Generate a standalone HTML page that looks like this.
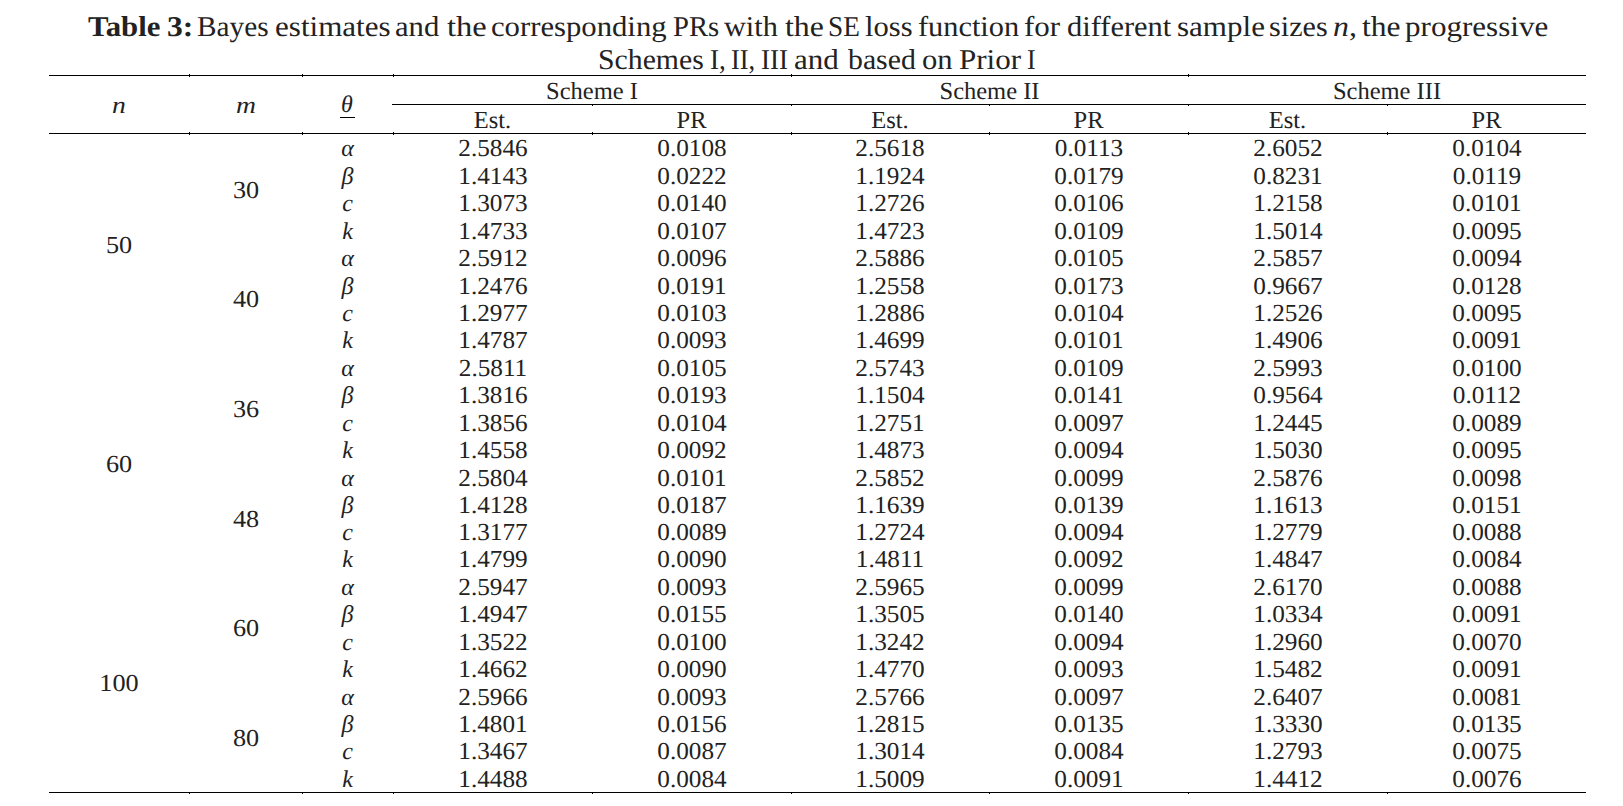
<!DOCTYPE html>
<html><head><meta charset="utf-8"><style>
html,body{margin:0;padding:0;background:#fff;width:1623px;height:806px;overflow:hidden;position:relative}
.t{position:absolute;font-family:"Liberation Serif", serif;line-height:0;text-rendering:geometricPrecision;white-space:nowrap;text-align:center;color:#222;transform-origin:50% 0}
.l{position:absolute;background:#000}
.w{position:absolute;font-family:"Liberation Serif", serif;line-height:0;text-rendering:geometricPrecision;white-space:nowrap;color:#222;transform-origin:0 0}
</style></head><body>
<div class="w" style="left:87.80px;top:27px;font-size:28.7px;transform:scaleX(1.0731)"><b>Table</b></div>
<div class="w" style="left:166.90px;top:27px;font-size:28.7px;transform:scaleX(1.1000)"><b>3:</b></div>
<div class="w" style="left:197.48px;top:27px;font-size:28.7px;transform:scaleX(1.0206)">Bayes</div>
<div class="w" style="left:274.72px;top:27px;font-size:28.7px;transform:scaleX(1.0829)">estimates</div>
<div class="w" style="left:395.43px;top:27px;font-size:28.7px;transform:scaleX(1.0700)">and</div>
<div class="w" style="left:447.00px;top:27px;font-size:28.7px;transform:scaleX(1.1324)">the</div>
<div class="w" style="left:491.43px;top:27px;font-size:28.7px;transform:scaleX(1.0699)">corresponding</div>
<div class="w" style="left:672.90px;top:27px;font-size:28.7px;transform:scaleX(0.9977)">PRs</div>
<div class="w" style="left:724.10px;top:27px;font-size:28.7px;transform:scaleX(1.0549)">with</div>
<div class="w" style="left:785.00px;top:27px;font-size:28.7px;transform:scaleX(1.1088)">the</div>
<div class="w" style="left:828.30px;top:27px;font-size:28.7px;transform:scaleX(0.9500)">SE</div>
<div class="w" style="left:865.13px;top:27px;font-size:28.7px;transform:scaleX(1.0651)">loss</div>
<div class="w" style="left:917.64px;top:27px;font-size:28.7px;transform:scaleX(1.0574)">function</div>
<div class="w" style="left:1024.02px;top:27px;font-size:28.7px;transform:scaleX(1.0788)">for</div>
<div class="w" style="left:1066.64px;top:27px;font-size:28.7px;transform:scaleX(1.0619)">different</div>
<div class="w" style="left:1176.62px;top:27px;font-size:28.7px;transform:scaleX(1.0823)">sample</div>
<div class="w" style="left:1269.15px;top:27px;font-size:28.7px;transform:scaleX(1.0519)">sizes</div>
<div class="w" style="left:1332.89px;top:27px;font-size:28.7px;transform:scaleX(1.1105)"><i>n</i>,</div>
<div class="w" style="left:1362.10px;top:27px;font-size:28.7px;transform:scaleX(1.1000)">the</div>
<div class="w" style="left:1405.42px;top:27px;font-size:28.7px;transform:scaleX(1.0831)">progressive</div>
<div class="w" style="left:598.33px;top:60px;font-size:28.7px;transform:scaleX(1.0374)">Schemes</div>
<div class="w" style="left:709.96px;top:60px;font-size:28.7px;transform:scaleX(0.9429)">I,</div>
<div class="w" style="left:730.98px;top:60px;font-size:28.7px;transform:scaleX(0.9167)">II,</div>
<div class="w" style="left:760.76px;top:60px;font-size:28.7px;transform:scaleX(0.9407)">III</div>
<div class="w" style="left:793.92px;top:60px;font-size:28.7px;transform:scaleX(1.0800)">and</div>
<div class="w" style="left:847.60px;top:60px;font-size:28.7px;transform:scaleX(1.0385)">based</div>
<div class="w" style="left:922.03px;top:60px;font-size:28.7px;transform:scaleX(1.0667)">on</div>
<div class="w" style="left:958.82px;top:60px;font-size:28.7px;transform:scaleX(1.0821)">Prior</div>
<div class="w" style="left:1026.90px;top:60px;font-size:28.7px;transform:scaleX(0.9000)">I</div>
<div class="l" style="left:49px;top:75px;width:1537px;height:1px"></div>
<div class="l" style="left:392px;top:104px;width:1194px;height:1px"></div>
<div class="l" style="left:49px;top:133px;width:1537px;height:1px"></div>
<div class="l" style="left:49px;top:792px;width:1537px;height:1px"></div>
<div class="l" style="left:189px;top:74px;width:1px;height:3px"></div>
<div class="l" style="left:302px;top:74px;width:1px;height:3px"></div>
<div class="l" style="left:393px;top:74px;width:1px;height:3px"></div>
<div class="l" style="left:791px;top:74px;width:1px;height:3px"></div>
<div class="l" style="left:1188px;top:74px;width:1px;height:3px"></div>
<div class="l" style="left:592px;top:105px;width:1px;height:1px"></div>
<div class="l" style="left:791px;top:105px;width:1px;height:1px"></div>
<div class="l" style="left:989px;top:105px;width:1px;height:1px"></div>
<div class="l" style="left:1188px;top:105px;width:1px;height:1px"></div>
<div class="l" style="left:1387px;top:105px;width:1px;height:1px"></div>
<div class="l" style="left:189px;top:132px;width:1px;height:3px"></div>
<div class="l" style="left:189px;top:793px;width:1px;height:1px"></div>
<div class="l" style="left:302px;top:132px;width:1px;height:3px"></div>
<div class="l" style="left:302px;top:793px;width:1px;height:1px"></div>
<div class="l" style="left:393px;top:132px;width:1px;height:3px"></div>
<div class="l" style="left:393px;top:793px;width:1px;height:1px"></div>
<div class="l" style="left:592px;top:132px;width:1px;height:3px"></div>
<div class="l" style="left:592px;top:793px;width:1px;height:1px"></div>
<div class="l" style="left:791px;top:132px;width:1px;height:3px"></div>
<div class="l" style="left:791px;top:793px;width:1px;height:1px"></div>
<div class="l" style="left:989px;top:132px;width:1px;height:3px"></div>
<div class="l" style="left:989px;top:793px;width:1px;height:1px"></div>
<div class="l" style="left:1188px;top:132px;width:1px;height:3px"></div>
<div class="l" style="left:1188px;top:793px;width:1px;height:1px"></div>
<div class="l" style="left:1387px;top:132px;width:1px;height:3px"></div>
<div class="l" style="left:1387px;top:793px;width:1px;height:1px"></div>
<div class="t" style="left:-81.00px;top:106px;width:400px;font-size:24px;transform:scaleX(1.1500);"><i>n</i></div>
<div class="t" style="left:45.50px;top:106px;width:400px;font-size:24px;transform:scaleX(1.1500);"><i>m</i></div>
<div class="t" style="left:147.00px;top:105px;width:400px;font-size:24px;"><i>θ</i></div>
<div class="l" style="left:340px;top:117px;width:15px;height:1px"></div>
<div class="t" style="left:392.00px;top:92px;width:400px;font-size:24.5px;">Scheme I</div>
<div class="t" style="left:292.50px;top:121px;width:400px;font-size:24.5px;">Est.</div>
<div class="t" style="left:491.50px;top:121px;width:400px;font-size:24.5px;">PR</div>
<div class="t" style="left:789.50px;top:92px;width:400px;font-size:24.5px;">Scheme II</div>
<div class="t" style="left:690.00px;top:121px;width:400px;font-size:24.5px;">Est.</div>
<div class="t" style="left:888.50px;top:121px;width:400px;font-size:24.5px;">PR</div>
<div class="t" style="left:1187.00px;top:92px;width:400px;font-size:24.5px;">Scheme III</div>
<div class="t" style="left:1087.50px;top:121px;width:400px;font-size:24.5px;">Est.</div>
<div class="t" style="left:1286.50px;top:121px;width:400px;font-size:24.5px;">PR</div>
<div class="t" style="left:147.50px;top:149px;width:400px;font-size:24px;"><i>α</i></div>
<div class="t" style="left:292.50px;top:149px;width:400px;font-size:24.5px;transform:scaleX(1.0300);">2.5846</div>
<div class="t" style="left:491.50px;top:149px;width:400px;font-size:24.5px;transform:scaleX(1.0300);">0.0108</div>
<div class="t" style="left:690.00px;top:149px;width:400px;font-size:24.5px;transform:scaleX(1.0300);">2.5618</div>
<div class="t" style="left:888.50px;top:149px;width:400px;font-size:24.5px;transform:scaleX(1.0300);">0.0113</div>
<div class="t" style="left:1087.50px;top:149px;width:400px;font-size:24.5px;transform:scaleX(1.0300);">2.6052</div>
<div class="t" style="left:1286.50px;top:149px;width:400px;font-size:24.5px;transform:scaleX(1.0300);">0.0104</div>
<div class="t" style="left:147.50px;top:177px;width:400px;font-size:24px;"><i>β</i></div>
<div class="t" style="left:292.50px;top:177px;width:400px;font-size:24.5px;transform:scaleX(1.0300);">1.4143</div>
<div class="t" style="left:491.50px;top:177px;width:400px;font-size:24.5px;transform:scaleX(1.0300);">0.0222</div>
<div class="t" style="left:690.00px;top:177px;width:400px;font-size:24.5px;transform:scaleX(1.0300);">1.1924</div>
<div class="t" style="left:888.50px;top:177px;width:400px;font-size:24.5px;transform:scaleX(1.0300);">0.0179</div>
<div class="t" style="left:1087.50px;top:177px;width:400px;font-size:24.5px;transform:scaleX(1.0300);">0.8231</div>
<div class="t" style="left:1286.50px;top:177px;width:400px;font-size:24.5px;transform:scaleX(1.0300);">0.0119</div>
<div class="t" style="left:147.50px;top:204px;width:400px;font-size:24px;"><i>c</i></div>
<div class="t" style="left:292.50px;top:204px;width:400px;font-size:24.5px;transform:scaleX(1.0300);">1.3073</div>
<div class="t" style="left:491.50px;top:204px;width:400px;font-size:24.5px;transform:scaleX(1.0300);">0.0140</div>
<div class="t" style="left:690.00px;top:204px;width:400px;font-size:24.5px;transform:scaleX(1.0300);">1.2726</div>
<div class="t" style="left:888.50px;top:204px;width:400px;font-size:24.5px;transform:scaleX(1.0300);">0.0106</div>
<div class="t" style="left:1087.50px;top:204px;width:400px;font-size:24.5px;transform:scaleX(1.0300);">1.2158</div>
<div class="t" style="left:1286.50px;top:204px;width:400px;font-size:24.5px;transform:scaleX(1.0300);">0.0101</div>
<div class="t" style="left:147.50px;top:232px;width:400px;font-size:24px;"><i>k</i></div>
<div class="t" style="left:292.50px;top:232px;width:400px;font-size:24.5px;transform:scaleX(1.0300);">1.4733</div>
<div class="t" style="left:491.50px;top:232px;width:400px;font-size:24.5px;transform:scaleX(1.0300);">0.0107</div>
<div class="t" style="left:690.00px;top:232px;width:400px;font-size:24.5px;transform:scaleX(1.0300);">1.4723</div>
<div class="t" style="left:888.50px;top:232px;width:400px;font-size:24.5px;transform:scaleX(1.0300);">0.0109</div>
<div class="t" style="left:1087.50px;top:232px;width:400px;font-size:24.5px;transform:scaleX(1.0300);">1.5014</div>
<div class="t" style="left:1286.50px;top:232px;width:400px;font-size:24.5px;transform:scaleX(1.0300);">0.0095</div>
<div class="t" style="left:147.50px;top:259px;width:400px;font-size:24px;"><i>α</i></div>
<div class="t" style="left:292.50px;top:259px;width:400px;font-size:24.5px;transform:scaleX(1.0300);">2.5912</div>
<div class="t" style="left:491.50px;top:259px;width:400px;font-size:24.5px;transform:scaleX(1.0300);">0.0096</div>
<div class="t" style="left:690.00px;top:259px;width:400px;font-size:24.5px;transform:scaleX(1.0300);">2.5886</div>
<div class="t" style="left:888.50px;top:259px;width:400px;font-size:24.5px;transform:scaleX(1.0300);">0.0105</div>
<div class="t" style="left:1087.50px;top:259px;width:400px;font-size:24.5px;transform:scaleX(1.0300);">2.5857</div>
<div class="t" style="left:1286.50px;top:259px;width:400px;font-size:24.5px;transform:scaleX(1.0300);">0.0094</div>
<div class="t" style="left:147.50px;top:287px;width:400px;font-size:24px;"><i>β</i></div>
<div class="t" style="left:292.50px;top:287px;width:400px;font-size:24.5px;transform:scaleX(1.0300);">1.2476</div>
<div class="t" style="left:491.50px;top:287px;width:400px;font-size:24.5px;transform:scaleX(1.0300);">0.0191</div>
<div class="t" style="left:690.00px;top:287px;width:400px;font-size:24.5px;transform:scaleX(1.0300);">1.2558</div>
<div class="t" style="left:888.50px;top:287px;width:400px;font-size:24.5px;transform:scaleX(1.0300);">0.0173</div>
<div class="t" style="left:1087.50px;top:287px;width:400px;font-size:24.5px;transform:scaleX(1.0300);">0.9667</div>
<div class="t" style="left:1286.50px;top:287px;width:400px;font-size:24.5px;transform:scaleX(1.0300);">0.0128</div>
<div class="t" style="left:147.50px;top:314px;width:400px;font-size:24px;"><i>c</i></div>
<div class="t" style="left:292.50px;top:314px;width:400px;font-size:24.5px;transform:scaleX(1.0300);">1.2977</div>
<div class="t" style="left:491.50px;top:314px;width:400px;font-size:24.5px;transform:scaleX(1.0300);">0.0103</div>
<div class="t" style="left:690.00px;top:314px;width:400px;font-size:24.5px;transform:scaleX(1.0300);">1.2886</div>
<div class="t" style="left:888.50px;top:314px;width:400px;font-size:24.5px;transform:scaleX(1.0300);">0.0104</div>
<div class="t" style="left:1087.50px;top:314px;width:400px;font-size:24.5px;transform:scaleX(1.0300);">1.2526</div>
<div class="t" style="left:1286.50px;top:314px;width:400px;font-size:24.5px;transform:scaleX(1.0300);">0.0095</div>
<div class="t" style="left:147.50px;top:341px;width:400px;font-size:24px;"><i>k</i></div>
<div class="t" style="left:292.50px;top:341px;width:400px;font-size:24.5px;transform:scaleX(1.0300);">1.4787</div>
<div class="t" style="left:491.50px;top:341px;width:400px;font-size:24.5px;transform:scaleX(1.0300);">0.0093</div>
<div class="t" style="left:690.00px;top:341px;width:400px;font-size:24.5px;transform:scaleX(1.0300);">1.4699</div>
<div class="t" style="left:888.50px;top:341px;width:400px;font-size:24.5px;transform:scaleX(1.0300);">0.0101</div>
<div class="t" style="left:1087.50px;top:341px;width:400px;font-size:24.5px;transform:scaleX(1.0300);">1.4906</div>
<div class="t" style="left:1286.50px;top:341px;width:400px;font-size:24.5px;transform:scaleX(1.0300);">0.0091</div>
<div class="t" style="left:147.50px;top:369px;width:400px;font-size:24px;"><i>α</i></div>
<div class="t" style="left:292.50px;top:369px;width:400px;font-size:24.5px;transform:scaleX(1.0300);">2.5811</div>
<div class="t" style="left:491.50px;top:369px;width:400px;font-size:24.5px;transform:scaleX(1.0300);">0.0105</div>
<div class="t" style="left:690.00px;top:369px;width:400px;font-size:24.5px;transform:scaleX(1.0300);">2.5743</div>
<div class="t" style="left:888.50px;top:369px;width:400px;font-size:24.5px;transform:scaleX(1.0300);">0.0109</div>
<div class="t" style="left:1087.50px;top:369px;width:400px;font-size:24.5px;transform:scaleX(1.0300);">2.5993</div>
<div class="t" style="left:1286.50px;top:369px;width:400px;font-size:24.5px;transform:scaleX(1.0300);">0.0100</div>
<div class="t" style="left:147.50px;top:396px;width:400px;font-size:24px;"><i>β</i></div>
<div class="t" style="left:292.50px;top:396px;width:400px;font-size:24.5px;transform:scaleX(1.0300);">1.3816</div>
<div class="t" style="left:491.50px;top:396px;width:400px;font-size:24.5px;transform:scaleX(1.0300);">0.0193</div>
<div class="t" style="left:690.00px;top:396px;width:400px;font-size:24.5px;transform:scaleX(1.0300);">1.1504</div>
<div class="t" style="left:888.50px;top:396px;width:400px;font-size:24.5px;transform:scaleX(1.0300);">0.0141</div>
<div class="t" style="left:1087.50px;top:396px;width:400px;font-size:24.5px;transform:scaleX(1.0300);">0.9564</div>
<div class="t" style="left:1286.50px;top:396px;width:400px;font-size:24.5px;transform:scaleX(1.0300);">0.0112</div>
<div class="t" style="left:147.50px;top:424px;width:400px;font-size:24px;"><i>c</i></div>
<div class="t" style="left:292.50px;top:424px;width:400px;font-size:24.5px;transform:scaleX(1.0300);">1.3856</div>
<div class="t" style="left:491.50px;top:424px;width:400px;font-size:24.5px;transform:scaleX(1.0300);">0.0104</div>
<div class="t" style="left:690.00px;top:424px;width:400px;font-size:24.5px;transform:scaleX(1.0300);">1.2751</div>
<div class="t" style="left:888.50px;top:424px;width:400px;font-size:24.5px;transform:scaleX(1.0300);">0.0097</div>
<div class="t" style="left:1087.50px;top:424px;width:400px;font-size:24.5px;transform:scaleX(1.0300);">1.2445</div>
<div class="t" style="left:1286.50px;top:424px;width:400px;font-size:24.5px;transform:scaleX(1.0300);">0.0089</div>
<div class="t" style="left:147.50px;top:451px;width:400px;font-size:24px;"><i>k</i></div>
<div class="t" style="left:292.50px;top:451px;width:400px;font-size:24.5px;transform:scaleX(1.0300);">1.4558</div>
<div class="t" style="left:491.50px;top:451px;width:400px;font-size:24.5px;transform:scaleX(1.0300);">0.0092</div>
<div class="t" style="left:690.00px;top:451px;width:400px;font-size:24.5px;transform:scaleX(1.0300);">1.4873</div>
<div class="t" style="left:888.50px;top:451px;width:400px;font-size:24.5px;transform:scaleX(1.0300);">0.0094</div>
<div class="t" style="left:1087.50px;top:451px;width:400px;font-size:24.5px;transform:scaleX(1.0300);">1.5030</div>
<div class="t" style="left:1286.50px;top:451px;width:400px;font-size:24.5px;transform:scaleX(1.0300);">0.0095</div>
<div class="t" style="left:147.50px;top:479px;width:400px;font-size:24px;"><i>α</i></div>
<div class="t" style="left:292.50px;top:479px;width:400px;font-size:24.5px;transform:scaleX(1.0300);">2.5804</div>
<div class="t" style="left:491.50px;top:479px;width:400px;font-size:24.5px;transform:scaleX(1.0300);">0.0101</div>
<div class="t" style="left:690.00px;top:479px;width:400px;font-size:24.5px;transform:scaleX(1.0300);">2.5852</div>
<div class="t" style="left:888.50px;top:479px;width:400px;font-size:24.5px;transform:scaleX(1.0300);">0.0099</div>
<div class="t" style="left:1087.50px;top:479px;width:400px;font-size:24.5px;transform:scaleX(1.0300);">2.5876</div>
<div class="t" style="left:1286.50px;top:479px;width:400px;font-size:24.5px;transform:scaleX(1.0300);">0.0098</div>
<div class="t" style="left:147.50px;top:506px;width:400px;font-size:24px;"><i>β</i></div>
<div class="t" style="left:292.50px;top:506px;width:400px;font-size:24.5px;transform:scaleX(1.0300);">1.4128</div>
<div class="t" style="left:491.50px;top:506px;width:400px;font-size:24.5px;transform:scaleX(1.0300);">0.0187</div>
<div class="t" style="left:690.00px;top:506px;width:400px;font-size:24.5px;transform:scaleX(1.0300);">1.1639</div>
<div class="t" style="left:888.50px;top:506px;width:400px;font-size:24.5px;transform:scaleX(1.0300);">0.0139</div>
<div class="t" style="left:1087.50px;top:506px;width:400px;font-size:24.5px;transform:scaleX(1.0300);">1.1613</div>
<div class="t" style="left:1286.50px;top:506px;width:400px;font-size:24.5px;transform:scaleX(1.0300);">0.0151</div>
<div class="t" style="left:147.50px;top:533px;width:400px;font-size:24px;"><i>c</i></div>
<div class="t" style="left:292.50px;top:533px;width:400px;font-size:24.5px;transform:scaleX(1.0300);">1.3177</div>
<div class="t" style="left:491.50px;top:533px;width:400px;font-size:24.5px;transform:scaleX(1.0300);">0.0089</div>
<div class="t" style="left:690.00px;top:533px;width:400px;font-size:24.5px;transform:scaleX(1.0300);">1.2724</div>
<div class="t" style="left:888.50px;top:533px;width:400px;font-size:24.5px;transform:scaleX(1.0300);">0.0094</div>
<div class="t" style="left:1087.50px;top:533px;width:400px;font-size:24.5px;transform:scaleX(1.0300);">1.2779</div>
<div class="t" style="left:1286.50px;top:533px;width:400px;font-size:24.5px;transform:scaleX(1.0300);">0.0088</div>
<div class="t" style="left:147.50px;top:560px;width:400px;font-size:24px;"><i>k</i></div>
<div class="t" style="left:292.50px;top:560px;width:400px;font-size:24.5px;transform:scaleX(1.0300);">1.4799</div>
<div class="t" style="left:491.50px;top:560px;width:400px;font-size:24.5px;transform:scaleX(1.0300);">0.0090</div>
<div class="t" style="left:690.00px;top:560px;width:400px;font-size:24.5px;transform:scaleX(1.0300);">1.4811</div>
<div class="t" style="left:888.50px;top:560px;width:400px;font-size:24.5px;transform:scaleX(1.0300);">0.0092</div>
<div class="t" style="left:1087.50px;top:560px;width:400px;font-size:24.5px;transform:scaleX(1.0300);">1.4847</div>
<div class="t" style="left:1286.50px;top:560px;width:400px;font-size:24.5px;transform:scaleX(1.0300);">0.0084</div>
<div class="t" style="left:147.50px;top:588px;width:400px;font-size:24px;"><i>α</i></div>
<div class="t" style="left:292.50px;top:588px;width:400px;font-size:24.5px;transform:scaleX(1.0300);">2.5947</div>
<div class="t" style="left:491.50px;top:588px;width:400px;font-size:24.5px;transform:scaleX(1.0300);">0.0093</div>
<div class="t" style="left:690.00px;top:588px;width:400px;font-size:24.5px;transform:scaleX(1.0300);">2.5965</div>
<div class="t" style="left:888.50px;top:588px;width:400px;font-size:24.5px;transform:scaleX(1.0300);">0.0099</div>
<div class="t" style="left:1087.50px;top:588px;width:400px;font-size:24.5px;transform:scaleX(1.0300);">2.6170</div>
<div class="t" style="left:1286.50px;top:588px;width:400px;font-size:24.5px;transform:scaleX(1.0300);">0.0088</div>
<div class="t" style="left:147.50px;top:615px;width:400px;font-size:24px;"><i>β</i></div>
<div class="t" style="left:292.50px;top:615px;width:400px;font-size:24.5px;transform:scaleX(1.0300);">1.4947</div>
<div class="t" style="left:491.50px;top:615px;width:400px;font-size:24.5px;transform:scaleX(1.0300);">0.0155</div>
<div class="t" style="left:690.00px;top:615px;width:400px;font-size:24.5px;transform:scaleX(1.0300);">1.3505</div>
<div class="t" style="left:888.50px;top:615px;width:400px;font-size:24.5px;transform:scaleX(1.0300);">0.0140</div>
<div class="t" style="left:1087.50px;top:615px;width:400px;font-size:24.5px;transform:scaleX(1.0300);">1.0334</div>
<div class="t" style="left:1286.50px;top:615px;width:400px;font-size:24.5px;transform:scaleX(1.0300);">0.0091</div>
<div class="t" style="left:147.50px;top:643px;width:400px;font-size:24px;"><i>c</i></div>
<div class="t" style="left:292.50px;top:643px;width:400px;font-size:24.5px;transform:scaleX(1.0300);">1.3522</div>
<div class="t" style="left:491.50px;top:643px;width:400px;font-size:24.5px;transform:scaleX(1.0300);">0.0100</div>
<div class="t" style="left:690.00px;top:643px;width:400px;font-size:24.5px;transform:scaleX(1.0300);">1.3242</div>
<div class="t" style="left:888.50px;top:643px;width:400px;font-size:24.5px;transform:scaleX(1.0300);">0.0094</div>
<div class="t" style="left:1087.50px;top:643px;width:400px;font-size:24.5px;transform:scaleX(1.0300);">1.2960</div>
<div class="t" style="left:1286.50px;top:643px;width:400px;font-size:24.5px;transform:scaleX(1.0300);">0.0070</div>
<div class="t" style="left:147.50px;top:670px;width:400px;font-size:24px;"><i>k</i></div>
<div class="t" style="left:292.50px;top:670px;width:400px;font-size:24.5px;transform:scaleX(1.0300);">1.4662</div>
<div class="t" style="left:491.50px;top:670px;width:400px;font-size:24.5px;transform:scaleX(1.0300);">0.0090</div>
<div class="t" style="left:690.00px;top:670px;width:400px;font-size:24.5px;transform:scaleX(1.0300);">1.4770</div>
<div class="t" style="left:888.50px;top:670px;width:400px;font-size:24.5px;transform:scaleX(1.0300);">0.0093</div>
<div class="t" style="left:1087.50px;top:670px;width:400px;font-size:24.5px;transform:scaleX(1.0300);">1.5482</div>
<div class="t" style="left:1286.50px;top:670px;width:400px;font-size:24.5px;transform:scaleX(1.0300);">0.0091</div>
<div class="t" style="left:147.50px;top:698px;width:400px;font-size:24px;"><i>α</i></div>
<div class="t" style="left:292.50px;top:698px;width:400px;font-size:24.5px;transform:scaleX(1.0300);">2.5966</div>
<div class="t" style="left:491.50px;top:698px;width:400px;font-size:24.5px;transform:scaleX(1.0300);">0.0093</div>
<div class="t" style="left:690.00px;top:698px;width:400px;font-size:24.5px;transform:scaleX(1.0300);">2.5766</div>
<div class="t" style="left:888.50px;top:698px;width:400px;font-size:24.5px;transform:scaleX(1.0300);">0.0097</div>
<div class="t" style="left:1087.50px;top:698px;width:400px;font-size:24.5px;transform:scaleX(1.0300);">2.6407</div>
<div class="t" style="left:1286.50px;top:698px;width:400px;font-size:24.5px;transform:scaleX(1.0300);">0.0081</div>
<div class="t" style="left:147.50px;top:725px;width:400px;font-size:24px;"><i>β</i></div>
<div class="t" style="left:292.50px;top:725px;width:400px;font-size:24.5px;transform:scaleX(1.0300);">1.4801</div>
<div class="t" style="left:491.50px;top:725px;width:400px;font-size:24.5px;transform:scaleX(1.0300);">0.0156</div>
<div class="t" style="left:690.00px;top:725px;width:400px;font-size:24.5px;transform:scaleX(1.0300);">1.2815</div>
<div class="t" style="left:888.50px;top:725px;width:400px;font-size:24.5px;transform:scaleX(1.0300);">0.0135</div>
<div class="t" style="left:1087.50px;top:725px;width:400px;font-size:24.5px;transform:scaleX(1.0300);">1.3330</div>
<div class="t" style="left:1286.50px;top:725px;width:400px;font-size:24.5px;transform:scaleX(1.0300);">0.0135</div>
<div class="t" style="left:147.50px;top:752px;width:400px;font-size:24px;"><i>c</i></div>
<div class="t" style="left:292.50px;top:752px;width:400px;font-size:24.5px;transform:scaleX(1.0300);">1.3467</div>
<div class="t" style="left:491.50px;top:752px;width:400px;font-size:24.5px;transform:scaleX(1.0300);">0.0087</div>
<div class="t" style="left:690.00px;top:752px;width:400px;font-size:24.5px;transform:scaleX(1.0300);">1.3014</div>
<div class="t" style="left:888.50px;top:752px;width:400px;font-size:24.5px;transform:scaleX(1.0300);">0.0084</div>
<div class="t" style="left:1087.50px;top:752px;width:400px;font-size:24.5px;transform:scaleX(1.0300);">1.2793</div>
<div class="t" style="left:1286.50px;top:752px;width:400px;font-size:24.5px;transform:scaleX(1.0300);">0.0075</div>
<div class="t" style="left:147.50px;top:780px;width:400px;font-size:24px;"><i>k</i></div>
<div class="t" style="left:292.50px;top:780px;width:400px;font-size:24.5px;transform:scaleX(1.0300);">1.4488</div>
<div class="t" style="left:491.50px;top:780px;width:400px;font-size:24.5px;transform:scaleX(1.0300);">0.0084</div>
<div class="t" style="left:690.00px;top:780px;width:400px;font-size:24.5px;transform:scaleX(1.0300);">1.5009</div>
<div class="t" style="left:888.50px;top:780px;width:400px;font-size:24.5px;transform:scaleX(1.0300);">0.0091</div>
<div class="t" style="left:1087.50px;top:780px;width:400px;font-size:24.5px;transform:scaleX(1.0300);">1.4412</div>
<div class="t" style="left:1286.50px;top:780px;width:400px;font-size:24.5px;transform:scaleX(1.0300);">0.0076</div>
<div class="t" style="left:-81.00px;top:246px;width:400px;font-size:24.5px;transform:scaleX(1.0700);">50</div>
<div class="t" style="left:-81.00px;top:465px;width:400px;font-size:24.5px;transform:scaleX(1.0700);">60</div>
<div class="t" style="left:-81.00px;top:684px;width:400px;font-size:24.5px;transform:scaleX(1.0700);">100</div>
<div class="t" style="left:45.50px;top:191px;width:400px;font-size:24.5px;transform:scaleX(1.0700);">30</div>
<div class="t" style="left:45.50px;top:300px;width:400px;font-size:24.5px;transform:scaleX(1.0700);">40</div>
<div class="t" style="left:45.50px;top:410px;width:400px;font-size:24.5px;transform:scaleX(1.0700);">36</div>
<div class="t" style="left:45.50px;top:520px;width:400px;font-size:24.5px;transform:scaleX(1.0700);">48</div>
<div class="t" style="left:45.50px;top:629px;width:400px;font-size:24.5px;transform:scaleX(1.0700);">60</div>
<div class="t" style="left:45.50px;top:739px;width:400px;font-size:24.5px;transform:scaleX(1.0700);">80</div>
</body></html>
